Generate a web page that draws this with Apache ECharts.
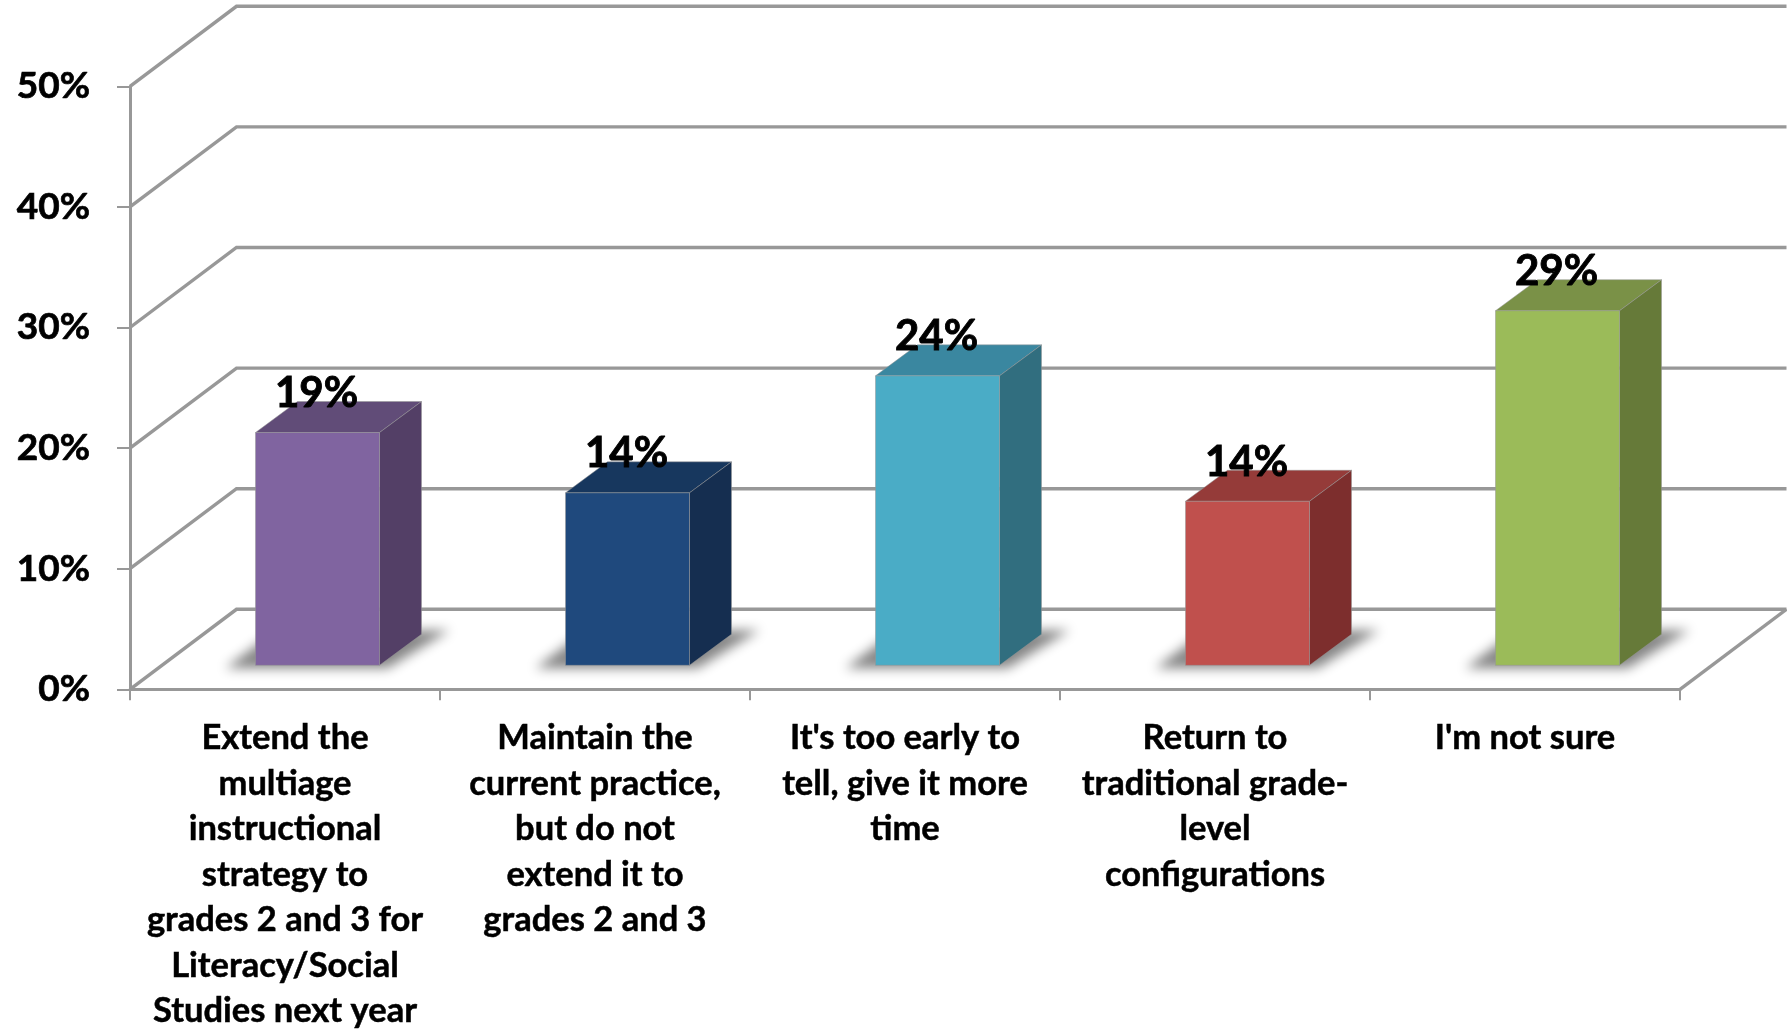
<!DOCTYPE html>
<html>
<head>
<meta charset="utf-8">
<style>html,body{margin:0;padding:0;background:#fff}#chart{width:1787px;height:1031px}</style>
<script src="https://cdn.jsdelivr.net/npm/echarts@6/dist/echarts.min.js"></script>
</head>
<body>
<div id="chart"></div>
<script>
const categories = [
  "Extend the\nmultiage\ninstructional\nstrategy to\ngrades 2 and 3 for\nLiteracy/Social\nStudies next year",
  "Maintain the\ncurrent practice,\nbut do not\nextend it to\ngrades 2 and 3",
  "It's too early to\ntell, give it more\ntime",
  "Return to\ntraditional grade-\nlevel\nconfigurations",
  "I'm not sure"
];
const values = [19.3, 14.3, 24.0, 13.6, 29.4];
const yTicks = [0, 10, 20, 30, 40, 50];
const frontColors = ["#8064A0", "#1F497D", "#4AACC6", "#C0504D", "#9BBB59"];
const topColors = ["#614C78", "#17375E", "#3A87A0", "#953B39", "#7A9147"];
const sideColors = ["#533F66", "#152E50", "#316E7F", "#7D2E2D", "#667A39"];

const WALL_DX = 106.5, WALL_DY = 80;
const BAR_DX = 42, BAR_DY = 31;
const FLOOR_DX = 32.5, FLOOR_DY = 24;
const GRID_COLOR = "#989898";
const FONT = "Lato, Carlito, 'Noto Sans', sans-serif";
const OFFSCREEN = 4000;

function renderWall(params, api) {
  const v = api.value(0);
  const cs = params.coordSys;
  const y = api.coord([0, v])[1];
  const left = cs.x, right = cs.x + cs.width;
  const lineStyle = { stroke: GRID_COLOR, lineWidth: 3.4, fill: null, lineJoin: "miter" };
  const children = [{
    type: "polyline",
    shape: { points: [[left, y], [left + WALL_DX, y - WALL_DY], [right + WALL_DX, y - WALL_DY]] },
    style: lineStyle
  }];
  if (v === 0) {
    children.push({
      type: "line",
      shape: { x1: right, y1: y, x2: right + WALL_DX, y2: y - WALL_DY },
      style: lineStyle
    });
  }
  return { type: "group", children };
}

function renderBar(params, api) {
  const i = api.value(0), v = api.value(1);
  const idx = params.dataIndex;
  const band = api.size([1, 0])[0];
  const w = band * 0.4;
  const c = api.coord([i, v]);
  const base = api.coord([i, 0]);
  const xL = c[0] + FLOOR_DX - w / 2, xR = xL + w;
  const yT = c[1] - FLOOR_DY, yB = base[1] - FLOOR_DY;
  const edge = "rgba(150,150,150,0.5)";
  const shadowPts = [
    [xL - 30, yB + 3], [xL + 6, yB - 24], [xR + BAR_DX, yB - BAR_DY - 4],
    [xR + BAR_DX + 28, yB - BAR_DY - 4], [xR + 8, yB + 3]
  ].map(p => [p[0] - OFFSCREEN, p[1]]);
  return {
    type: "group",
    children: [
      {
        type: "polygon",
        shape: { points: shadowPts },
        style: { fill: "#000", shadowBlur: 12, shadowColor: "#868686", shadowOffsetX: OFFSCREEN }
      },
      {
        type: "polygon",
        shape: { points: [[xL, yT], [xL + BAR_DX, yT - BAR_DY], [xR + BAR_DX, yT - BAR_DY], [xR, yT]] },
        style: { fill: topColors[idx], stroke: edge, lineWidth: 1 }
      },
      {
        type: "polygon",
        shape: { points: [[xR, yT], [xR + BAR_DX, yT - BAR_DY], [xR + BAR_DX, yB - BAR_DY], [xR, yB]] },
        style: { fill: sideColors[idx], stroke: edge, lineWidth: 1 }
      },
      {
        type: "rect",
        shape: { x: xL, y: yT, width: w, height: yB - yT },
        style: { fill: frontColors[idx], stroke: edge, lineWidth: 1 }
      },
      {
        type: "text",
        z2: 50,
        style: {
          x: xL + w / 2 - 1, y: yT - 39,
          text: Math.round(v) + "%",
          fill: "#000",
          stroke: "#000",
          lineWidth: 0.9,
          font: "bold 42px " + FONT,
          align: "center", verticalAlign: "middle"
        }
      }
    ]
  };
}

const chart = echarts.init(document.getElementById("chart"), null, { renderer: "canvas" });
chart.setOption({
  animation: false,
  backgroundColor: "#fff",
  grid: { left: 130, top: 86.3, width: 1550, height: 603, containLabel: false, outerBoundsMode: "none" },
  xAxis: {
    type: "category",
    data: categories,
    boundaryGap: true,
    axisLine: { show: true, lineStyle: { color: GRID_COLOR, width: 3 } },
    axisTick: { show: true, alignWithLabel: false, length: 11, lineStyle: { color: GRID_COLOR, width: 2 } },
    splitLine: { show: false },
    axisLabel: {
      interval: 0, margin: 26, color: "#000", fontFamily: FONT, fontWeight: "bold",
      fontSize: 34.5, lineHeight: 45.5, align: "center", verticalAlign: "top", hideOverlap: false,
      textBorderColor: "#000", textBorderWidth: 0.5
    }
  },
  yAxis: {
    type: "value",
    min: 0, max: 50, interval: 10,
    axisLine: { show: true, lineStyle: { color: GRID_COLOR, width: 3 } },
    axisTick: { show: true, length: 13, lineStyle: { color: GRID_COLOR, width: 2 } },
    splitLine: { show: false },
    axisLabel: {
      margin: 40, color: "#000", fontFamily: FONT, fontWeight: "bold", fontSize: 37,
      textBorderColor: "#000", textBorderWidth: 0.7,
      formatter: v => v + "%"
    }
  },
  series: [
    { type: "custom", silent: true, clip: false, z: 1, encode: { y: 0 }, data: yTicks.map(v => [v]), renderItem: renderWall },
    { type: "custom", silent: true, clip: false, z: 3, encode: { x: 0, y: 1 }, data: values.map((v, i) => [i, v]), renderItem: renderBar }
  ]
});
</script>
</body>
</html>
